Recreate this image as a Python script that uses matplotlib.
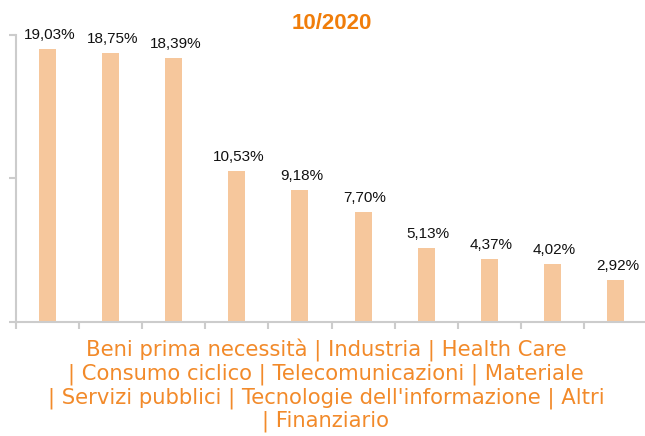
import matplotlib
matplotlib.use("Agg")
import matplotlib.pyplot as plt

categories = ["Beni prima necessità", "Industria", "Health Care", "Consumo ciclico",
              "Telecomunicazioni", "Materiale", "Servizi pubblici",
              "Tecnologie dell'informazione", "Altri", "Finanziario"]
values = [19.03, 18.75, 18.39, 10.53, 9.18, 7.70, 5.13, 4.37, 4.02, 2.92]
labels = ["19,03%", "18,75%", "18,39%", "10,53%", "9,18%", "7,70%", "5,13%", "4,37%", "4,02%", "2,92%"]
title = "10/2020"

W, H = 645, 436
fig = plt.figure(figsize=(W/100, H/100), dpi=100)
ax = fig.add_axes([16/W, (H-322)/H, 631/W, (322-35)/H])

x = list(range(len(values)))
ax.bar(x, values, width=0.27, color="#F6C79C", zorder=2)
for xi, v, lab in zip(x, values, labels):
    ax.annotate(lab, (xi, v), xytext=(1.5, 5), textcoords="offset points",
                ha="center", va="bottom", fontsize=11, family="Liberation Sans", color="#111111")

ax.set_xlim(-0.5, len(values) - 0.5)
ax.set_ylim(0, 20)
ax.set_yticks([0, 10, 20])
ax.set_yticklabels([])
ax.set_xticks([i - 0.5 for i in range(len(values) + 1)])
ax.set_xticklabels([])
for s in ["top", "right"]:
    ax.spines[s].set_visible(False)
for s in ["left", "bottom"]:
    ax.spines[s].set_color("#CCCCCC")
    ax.spines[s].set_linewidth(1.5)
ax.tick_params(axis="both", color="#CCCCCC", width=1.5, length=5)

ax.set_title(title, color="#F07D0A", fontsize=16, fontweight="bold",
             family="Liberation Sans", pad=4)

# category names joined as in the reference axis title
lines = [" | ".join(categories[0:3]),
         "| " + " | ".join(categories[3:6]),
         "| " + " | ".join(categories[6:9]),
         "| " + categories[9]]
fig.text(326/W, 1 - 339/H, "\n".join(lines), ha="center", va="top", fontsize=15.2,
         family="DejaVu Sans", color="#F28A2A", linespacing=1.12)

fig.savefig("out.png", dpi=100)
